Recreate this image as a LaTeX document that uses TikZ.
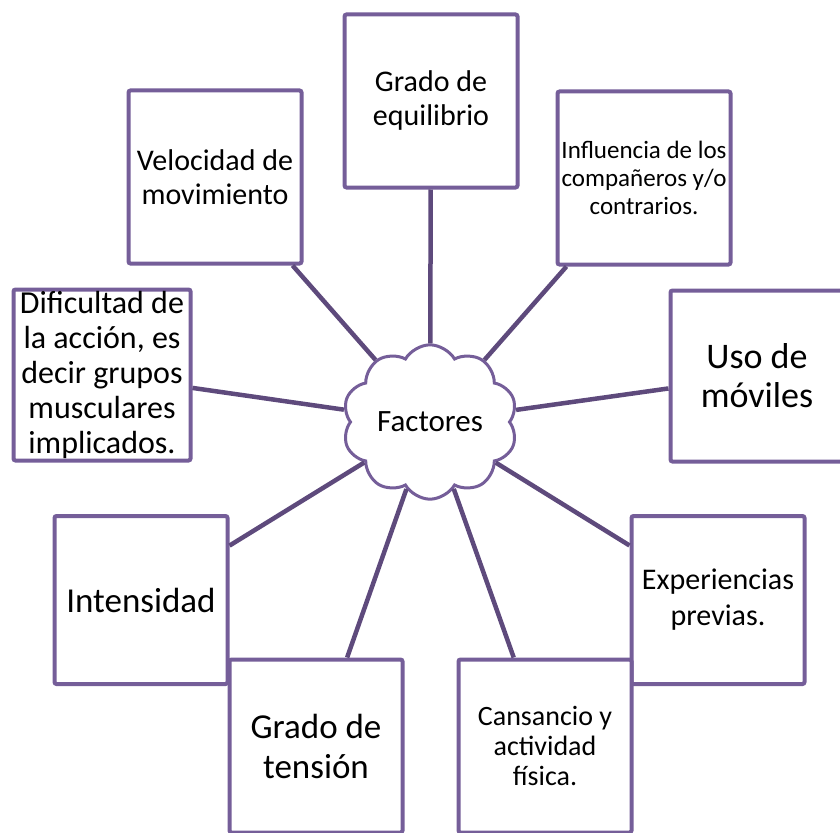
\documentclass[tikz,border=0pt]{standalone}
\usepackage{fontspec}
\setmainfont{Carlito}
\usepackage{xcolor}
\usetikzlibrary{positioning, shapes.symbols}
\definecolor{boxpurple}{RGB}{117,94,153}
\definecolor{linkpurple}{RGB}{94,74,124}

\begin{document}
\begin{tikzpicture}[x=1pt,y=-1pt,
          fb/.style={draw=boxpurple,line width=4pt,fill=white,rounded corners=2pt,
            minimum width=173pt,minimum height=173pt,align=center,inner sep=1pt},
          lk/.style={draw=linkpurple,line width=4.5pt}
        ]
        \useasboundingbox (0,0) rectangle (840,832);
        \node[cloud,cloud puffs=10,cloud puff arc=120,aspect=1.2,draw=boxpurple,line width=3pt,
          fill=white,minimum width=174pt,minimum height=148pt,
          font=\fontsize{31}{34}\selectfont] (fac) at (430,422) {Factores};
        \node[fb,font=\fontsize{30}{34}\selectfont] (eq) at (431,101) {Grado de\\equilibrio};
        \node[fb,font=\fontsize{30}{34}\selectfont] (vel) at (215,177) {Velocidad de\\movimiento};
        \node[fb,font=\fontsize{25}{28}\selectfont] (inf) at (644,178) {Influencia de los\\compañeros y/o\\contrarios.};
        \node[fb,minimum width=177pt,minimum height=171pt,font=\fontsize{32}{35}\selectfont] (dif) at (102,375) {Dificultad de\\la acción, es\\decir grupos\\musculares\\implicados.};
        \node[fb,minimum height=171pt,font=\fontsize{36}{39}\selectfont] (uso) at (757,376) {Uso de\\móviles};
        \node[fb,minimum height=168pt,font=\fontsize{35}{39}\selectfont] (int) at (141,600) {Intensidad};
        \node[fb,minimum height=168pt,font=\fontsize{30}{36}\selectfont] (exp) at (718,600) {Experiencias\\previas.};
        \node[fb,font=\fontsize{35}{40}\selectfont] (ten) at (316,746) {Grado de\\tensión};
        \node[fb,font=\fontsize{28}{30}\selectfont] (can) at (545,746) {Cansancio y\\actividad\\física.};
        \foreach\b in {eq,vel,inf,dif,uso,int,exp,ten,can}{\draw[lk] (\b) -- (fac);}
      \end{tikzpicture}
\end{document}
